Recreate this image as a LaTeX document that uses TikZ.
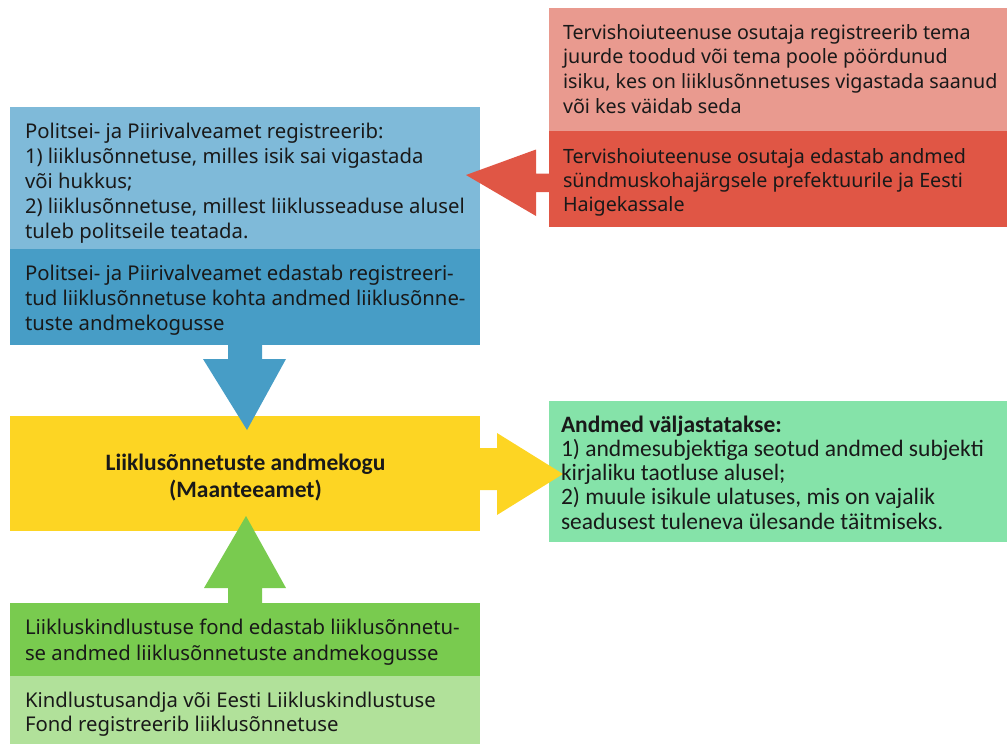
\documentclass[tikz,border=0pt]{standalone}
\usepackage{fontspec}
\setmainfont{Noto Sans}
\newfontfamily\calfont{Carlito}
\usetikzlibrary{calc}
\definecolor{bluelight}{RGB}{127,186,217}
\definecolor{bluedark}{RGB}{71,157,198}
\definecolor{redlight}{RGB}{233,154,143}
\definecolor{reddark}{RGB}{224,86,69}
\definecolor{yellowbox}{RGB}{253,213,35}
\definecolor{greenright}{RGB}{133,227,169}
\definecolor{greendark}{RGB}{121,203,79}
\definecolor{greenlight}{RGB}{177,225,154}
\tikzset{
  panel/.style={rectangle, inner sep=0pt, outer sep=0pt, anchor=north west, draw=none},
  txt/.style={inner sep=0pt, outer sep=0pt, anchor=base west, text=black!90, font=\fontsize{20.3}{25}\selectfont},
  redtxt/.style={txt, font=\fontsize{19.7}{25}\selectfont},
  caltxt/.style={inner sep=0pt, outer sep=0pt, anchor=base west, text=black!90, font=\calfont\fontsize{23.5}{24}\selectfont},
}
\begin{document}
\begin{tikzpicture}[x=1pt,y=-1pt]
\useasboundingbox (0,0) rectangle (1007,744);
% panels
\node[panel, fill=bluelight, minimum width=470pt, minimum height=142pt] (b1) at (10,107) {};
\node[panel, fill=bluedark, minimum width=470pt, minimum height=96pt] (b2) at (10,249) {};
\node[panel, fill=redlight, minimum width=458pt, minimum height=123pt] (r1) at (549,8) {};
\node[panel, fill=reddark, minimum width=458pt, minimum height=96pt] (r2) at (549,131) {};
\node[panel, fill=yellowbox, minimum width=470pt, minimum height=115pt] (y) at (10,416) {};
\node[panel, fill=greenright, minimum width=458pt, minimum height=141pt] (g) at (549,401) {};
\node[panel, fill=greendark, minimum width=470pt, minimum height=73pt] (gd) at (10,603) {};
\node[panel, fill=greenlight, minimum width=470pt, minimum height=68pt] (gl) at (10,676) {};
% block arrows
% red: from r2 to b1
\fill[reddark] ($(r2.west)+(1,-5.5)$) -- ++(-14,0) -- ++(0,-24) -- (466,175) -- ($(r2.west)+(-13,37)$) -- ++(0,-24) -- ++(14,0) -- cycle;
% blue: from b2 to y
\fill[bluedark] ($(b2.south)+(-17,-1)$) -- ++(0,15) -- ++(-25,0) -- ($(y.north)+(2,14)$) -- ($(b2.south)+(41,14)$) -- ++(-24,0) -- ++(0,-15) -- cycle;
% green: from gd to y
\fill[greendark] ($(gd.north)+(-17,1)$) -- ++(0,-16) -- ++(-24,0) -- ($(y.south)+(1,-15)$) -- ($(gd.north)+(41,-15)$) -- ++(-24,0) -- ++(0,16) -- cycle;
% yellow: from y to g
\fill[yellowbox] ($(y.east)+(-1,-25.5)$) -- ++(18,0) -- ++(0,-15) -- ($(g.west)+(14,2.5)$) -- ($(y.east)+(17,41.5)$) -- ++(0,-25) -- ++(-18,0) -- cycle;
% texts
\node[txt] (tb1) at (25,138) {\vtop{\baselineskip=25pt
\hbox{Politsei- ja Piirivalveamet registreerib:}
\hbox{1) liiklusõnnetuse, milles isik sai vigastada}
\hbox{või hukkus;}
\hbox{2) liiklusõnnetuse, millest liiklusseaduse alusel}
\hbox{tuleb politseile teatada.}}};
\node[txt] (tb2) at (25,280) {\vtop{\baselineskip=25pt
\hbox{Politsei- ja Piirivalveamet edastab registreeri-}
\hbox{tud liiklusõnnetuse kohta andmed liiklusõnne-}
\hbox{tuste andmekogusse}}};
\node[redtxt] (tr1) at (563,39) {\vtop{\baselineskip=24.7pt
\hbox{Tervishoiuteenuse osutaja registreerib tema}
\hbox{juurde toodud või tema poole pöördunud}
\hbox{isiku, kes on liiklusõnnetuses vigastada saanud}
\hbox{või kes väidab seda}}};
\node[redtxt] (tr2) at (563,163) {\vtop{\baselineskip=24.3pt
\hbox{Tervishoiuteenuse osutaja edastab andmed}
\hbox{sündmuskohajärgsele prefektuurile ja Eesti}
\hbox{Haigekassale}}};
\node[caltxt, font=\calfont\bfseries\fontsize{23.5}{27}\selectfont] (ty) at (245,470) {\vtop{\baselineskip=27pt
\hbox to 0pt{\hss Liiklusõnnetuste andmekogu\hss}
\hbox to 0pt{\hss (Maanteeamet)\hss}}};
\node[caltxt] (tg) at (561,432) {\vtop{\baselineskip=24.3pt
\hbox{\bfseries Andmed väljastatakse:}
\hbox{1) andmesubjektiga seotud andmed subjekti}
\hbox{kirjaliku taotluse alusel;}
\hbox{2) muule isikule ulatuses, mis on vajalik}
\hbox{seadusest tuleneva ülesande täitmiseks.}}};
\node[txt] (tgd) at (25,634) {\vtop{\baselineskip=26pt
\hbox{Liikluskindlustuse fond edastab liiklusõnnetu-}
\hbox{se andmed liiklusõnnetuste andmekogusse}}};
\node[txt] (tgl) at (25,707) {\vtop{\baselineskip=24pt
\hbox{Kindlustusandja või Eesti Liikluskindlustuse}
\hbox{Fond registreerib liiklusõnnetuse}}};
\end{tikzpicture}
\end{document}
